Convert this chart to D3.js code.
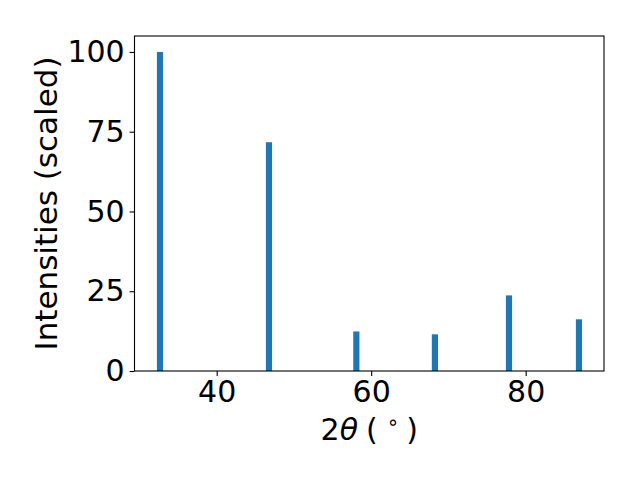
<!DOCTYPE html>
<html>
<head>
<meta charset="utf-8">
<script src="https://cdn.jsdelivr.net/npm/d3@7"></script>
<style>
body{margin:0;background:#fff;}
text{font-family:"DejaVu Sans",sans-serif;fill:#000;}
</style>
</head>
<body>
<svg id="c" width="640" height="480"></svg>
<script>
const positions = [32.66, 46.77, 58.08, 68.25, 77.84, 86.9];
const intensities = [100, 71.7, 12.4, 11.5, 23.7, 16.2];
const xTicks = [40, 60, 80];
const yTicks = [0, 25, 50, 75, 100];
const barWidth = 0.8;

const svg = d3.select("#c");
const L = 134.5, R = 604, T = 36, B = 371;
const FS = 30;
const x = d3.scaleLinear().domain([29.36, 90.14]).range([L, R]);
const y = d3.scaleLinear().domain([0, 105]).range([B, T]);

svg.append("rect").attr("width",640).attr("height",480).attr("fill","#fff");

svg.selectAll("rect.bar").data(positions).enter().append("rect")
  .attr("class","bar")
  .attr("x", (d)=>x(d - barWidth/2))
  .attr("width", (d)=>x(d + barWidth/2) - x(d - barWidth/2))
  .attr("y", (d,i)=>y(intensities[i]))
  .attr("height", (d,i)=>y(0)-y(intensities[i]))
  .attr("fill","#1f77b4");

const xAxis = svg.append("g").attr("transform",`translate(0,${B})`)
  .call(d3.axisBottom(x).tickValues(xTicks).tickSize(4.9).tickPadding(4.9).tickFormat(d3.format("d")));
const yAxis = svg.append("g").attr("transform",`translate(${L},0)`)
  .call(d3.axisLeft(y).tickValues(yTicks).tickSize(4.9).tickPadding(4.9).tickFormat(d3.format("d")));
[xAxis, yAxis].forEach(g=>{
  g.select(".domain").remove();
  g.selectAll(".tick line").attr("stroke","#000").attr("stroke-width",1.1);
  g.selectAll(".tick text").style("font-size",FS+"px").style("font-family","'DejaVu Sans',sans-serif").attr("fill","#000");
});

svg.append("rect").attr("x",L).attr("y",T).attr("width",R-L).attr("height",B-T)
  .attr("fill","none").attr("stroke","#000").attr("stroke-width",1.1);

const cx = (L+R)/2;
const xl = svg.append("text").attr("x",cx).attr("y",440).attr("text-anchor","middle").style("font-size",FS+"px");
xl.append("tspan").text("2");
xl.append("tspan").style("font-style","italic").text("θ");
xl.append("tspan").attr("dx",8).text("(");
xl.append("tspan").attr("dx",9).attr("dy",-11).style("font-size","20px").text("∘");
xl.append("tspan").attr("dx",7).attr("dy",11).text(")");

svg.append("text").attr("transform",`translate(57,${(T+B)/2}) rotate(-90)`)
  .attr("text-anchor","middle").style("font-size","31px").text("Intensities (scaled)");
</script>
</body>
</html>
